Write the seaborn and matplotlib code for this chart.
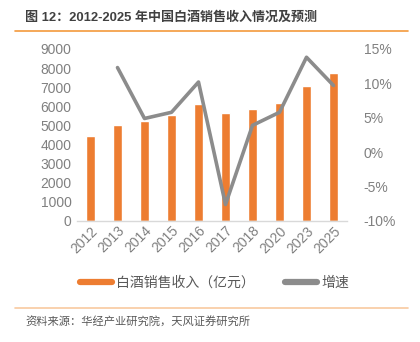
import numpy as np
import pandas as pd
import matplotlib
matplotlib.use("Agg")
import matplotlib.pyplot as plt
from matplotlib.lines import Line2D
import seaborn as sns

# 中国白酒销售收入（亿元）及增速
years = ["2012", "2013", "2014", "2015", "2016", "2017", "2018", "2020", "2023", "2025"]
revenue = [4460, 5000, 5240, 5540, 6100, 5650, 5860, 6200, 7040, 7750]
growth = [np.nan, 12.3, 4.9, 5.8, 10.2, -7.6, 3.9, 5.8, 13.8, 9.7]

left_ticks = [0, 1000, 2000, 3000, 4000, 5000, 6000, 7000, 8000, 9000]
right_ticks = [-10, -5, 0, 5, 10, 15]

title = "图 12：2012-2025 年中国白酒销售收入情况及预测"
bar_label = "白酒销售收入（亿元）"
line_label = "增速"
source = "资料来源：华经产业研究院，天风证券研究所"

BAR = "#ED7D31"
LINE = "#8C8C8C"
TICK = "#808080"
TEXT = "#595959"

sns.set_theme(style="white")
plt.rcParams["font.family"] = ["Liberation Sans", "Noto Sans CJK SC", "DejaVu Sans"]

df = pd.DataFrame({"year": years, "revenue": revenue, "growth": growth})
df["pos"] = np.arange(len(df))

fig = plt.figure(figsize=(4.2, 3.42), dpi=100)
ax = fig.add_axes([77 / 420, 1 - 221 / 342, 270 / 420, 172 / 342])

sns.barplot(data=df, x="year", y="revenue", color=BAR, width=0.32,
            saturation=1, ax=ax, zorder=2)
ax.set_ylim(0, 9000)
ax.set_yticks(left_ticks)
ax.set_xlim(-0.5, len(years) - 0.5)
ax.set_xlabel("")
ax.set_ylabel("")
ax.tick_params(axis="y", colors=TICK, labelsize=10, length=0, pad=4)
ax.tick_params(axis="x", colors=TICK, labelsize=10, length=0, pad=2)
for lab in ax.get_xticklabels():
    lab.set_rotation(45)
    lab.set_ha("right")
    lab.set_rotation_mode("anchor")
for s in ["top", "right", "left"]:
    ax.spines[s].set_visible(False)
ax.spines["bottom"].set_color("#D9D9D9")
ax.spines["bottom"].set_linewidth(1)

ax2 = ax.twinx()
sns.lineplot(data=df.dropna(), x="pos", y="growth", color=LINE, linewidth=2.6,
             ax=ax2, zorder=3)
ax2.set_ylim(-10, 15)
ax2.set_yticks(right_ticks)
ax2.set_yticklabels([f"{t}%" for t in right_ticks])
ax2.set_xlim(-0.5, len(years) - 0.5)
ax2.set_xlabel("")
ax2.set_ylabel("")
ax2.tick_params(axis="y", colors=TICK, labelsize=10, length=0, pad=12)
for s in ax2.spines.values():
    s.set_visible(False)

handles = [Line2D([0], [0], color=BAR, lw=4.5),
           Line2D([0], [0], color=LINE, lw=4.5)]
fig.legend(handles, [bar_label, line_label], loc="center",
           bbox_to_anchor=(0.51, 1 - 283 / 342), ncol=2, frameon=False,
           fontsize=10, handlelength=2.3, handletextpad=0.3,
           columnspacing=2.2, labelcolor=TEXT)

fig.text(25 / 420, 1 - 17 / 342, title, fontsize=9.4, fontweight="bold",
         color="#404040", va="center", ha="left")
fig.add_artist(Line2D([15 / 420, 408 / 420], [1 - 30.5 / 342] * 2,
                      color="#F39A3C", lw=1.2))
fig.add_artist(Line2D([15 / 420, 408 / 420], [1 - 307.5 / 342] * 2,
                      color="#F8C9A0", lw=1.2))
fig.text(25 / 420, 1 - 322 / 342, source, fontsize=8.1, color=TEXT,
         va="center", ha="left")

fig.savefig("out.png", dpi=100)
